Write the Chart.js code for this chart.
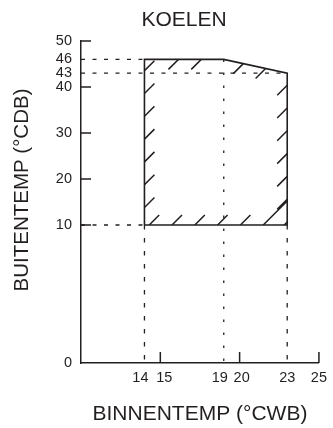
<!DOCTYPE html>
<html>
<head>
<meta charset="utf-8">
<title>Koelen</title>
<script src="https://cdn.jsdelivr.net/npm/chart.js@4.4.1/dist/chart.umd.min.js"></script>
<style>
  html, body { margin: 0; padding: 0; background: #fff; }
  #wrap { width: 333px; height: 428px; }
</style>
</head>
<body>
<div id="wrap"><canvas id="koelenChart" width="333" height="428"></canvas></div>
<script>
// Cooling operating range: indoor wet bulb (x) against outdoor dry bulb (y)
const chartTitle = 'KOELEN';
const xTitle = 'BINNENTEMP (°CWB)';
const yTitle = 'BUITENTEMP (°CDB)';

const xMin = 10, xMax = 25;
const yMin = -20, yMax = 50;   // axis is broken, its bottom is labelled 0

const zoneX = [14, 14, 19, 23, 23, 14];
const zoneY = [10, 46, 46, 43, 10, 10];

// dashed guides out from the y axis
const rowValues = [46, 43, 10];
const rowEnds = [14, 23, 14];
// dotted guides down to the x axis
const colValues = [14, 19, 23];
const colTops = [10, 46, 10];

const xTickValues = [14, 15, 19, 20, 23, 25];
const xTickLabels = ['14  ', '  15', '19  ', ' 20', '23', '25'];
const xTickMarks = [15, 20, 25];
const yTickValues = [-20, 10, 20, 30, 40, 43, 46, 50];
const yTickLabels = ['0', '10', '20', '30', '40', '43', '46', '50'];
const yTickMarks = [10, 20, 30, 40, 50];

const ink = '#231f20';
const fontFamily = '"Liberation Sans", Arial, Helvetica, sans-serif';

// short diagonal strokes along the inside of the zone outline
const hatchPlugin = {
    id: 'hatch',
    afterDatasetsDraw(chart) {
        const pts = chart.getDatasetMeta(0).data.map(p => ({ x: p.x, y: p.y }));
        const ctx = chart.ctx;
        const starts = [17.5, 34, 20, 12, 24];
        const gap = 22.8, len = 10;

        ctx.save();
        ctx.beginPath();
        pts.forEach((p, i) => i ? ctx.lineTo(p.x, p.y) : ctx.moveTo(p.x, p.y));
        ctx.closePath();
        ctx.clip();
        ctx.strokeStyle = ink;
        ctx.lineWidth = 1.5;
        ctx.beginPath();
        for (let i = 0; i < pts.length - 1; i++) {
            const a = pts[i], b = pts[i + 1];
            const edgeLen = Math.hypot(b.x - a.x, b.y - a.y);
            const ex = (b.x - a.x) / edgeLen, ey = (b.y - a.y) / edgeLen;
            // inward normal is (-ey, ex); go up-right or down-left, whichever points inside
            const dir = (-ey - ex) > 0 ? 1 : -1;
            for (let d = starts[i]; d < edgeLen; d += gap) {
                const px = a.x + ex * d;
                const py = a.y + ey * d;
                // the stroke in the bottom right corner runs through to the side
                const l = (i === pts.length - 2 && d === starts[i]) ? 26 : len;
                ctx.moveTo(px, py);
                ctx.lineTo(px + dir * l, py - dir * l);
            }
        }
        ctx.stroke();
        ctx.restore();
    }
};

// inside tick marks and the titles
const framePlugin = {
    id: 'frame',
    afterDraw(chart) {
        const { ctx, chartArea } = chart;
        const x = chart.scales.x, y = chart.scales.y;
        ctx.save();
        ctx.strokeStyle = ink;
        ctx.lineWidth = 1.5;
        ctx.beginPath();
        yTickMarks.forEach(v => {
            const py = y.getPixelForValue(v);
            ctx.moveTo(chartArea.left, py);
            ctx.lineTo(chartArea.left + 10, py);
        });
        xTickMarks.forEach(v => {
            const px = x.getPixelForValue(v);
            ctx.moveTo(px, chartArea.bottom);
            ctx.lineTo(px, chartArea.bottom - 11);
        });
        ctx.stroke();

        ctx.fillStyle = ink;
        ctx.textAlign = 'center';
        ctx.textBaseline = 'alphabetic';
        ctx.font = '21px ' + fontFamily;
        ctx.fillText(chartTitle, 184, 25.7);
        ctx.fillText(xTitle, (chartArea.left + chartArea.right) / 2, 420);
        ctx.translate(28.3, 190);
        ctx.rotate(-Math.PI / 2);
        ctx.font = '20.5px ' + fontFamily;
        ctx.fillText(yTitle, 0, 0);
        ctx.restore();
    }
};

function guide(points, dash, width) {
    return {
        data: points,
        showLine: true,
        borderColor: ink,
        borderWidth: width,
        borderDash: dash,
        pointRadius: 0,
        fill: false
    };
}

const datasets = [guide(zoneX.map((v, i) => ({ x: v, y: zoneY[i] })), [], 1.6)];
rowValues.forEach((v, i) => {
    datasets.push(guide([{ x: xMin, y: v }, { x: rowEnds[i], y: v }], [4, 7.5], 1.3));
});
colValues.forEach((v, i) => {
    const dash = v === 19 ? [2.5, 10.5] : [4.5, 8.5];
    datasets.push(guide([{ x: v, y: colTops[i] }, { x: v, y: yMin }], dash, 1.3));
});

new Chart(document.getElementById('koelenChart'), {
    type: 'scatter',
    data: { datasets: datasets },
    options: {
        responsive: false,
        animation: false,
        events: [],
        layout: { padding: { top: 41, right: 10.5, left: 0, bottom: 0 } },
        plugins: {
            legend: { display: false },
            title: { display: false },
            tooltip: { enabled: false }
        },
        scales: {
            x: {
                type: 'linear',
                min: xMin,
                max: xMax,
                afterFit: s => { s.height = 65; },
                afterBuildTicks: s => { s.ticks = xTickValues.map(v => ({ value: v })); },
                grid: { display: false, drawTicks: false },
                border: { display: true, color: ink, width: 1.5 },
                ticks: {
                    autoSkip: false,
                    maxRotation: 0,
                    padding: 6,
                    color: ink,
                    font: { family: fontFamily, size: 14.5 },
                    callback: v => xTickLabels[xTickValues.indexOf(v)]
                }
            },
            y: {
                type: 'linear',
                min: yMin,
                max: yMax,
                afterFit: s => { s.width = 81; },
                afterBuildTicks: s => { s.ticks = yTickValues.map(v => ({ value: v })); },
                grid: { display: false, drawTicks: false },
                border: { display: true, color: ink, width: 1.5 },
                ticks: {
                    autoSkip: false,
                    padding: 9,
                    color: ink,
                    font: { family: fontFamily, size: 14.5 },
                    callback: v => yTickLabels[yTickValues.indexOf(v)]
                }
            }
        }
    },
    plugins: [hatchPlugin, framePlugin]
});
</script>
</body>
</html>
